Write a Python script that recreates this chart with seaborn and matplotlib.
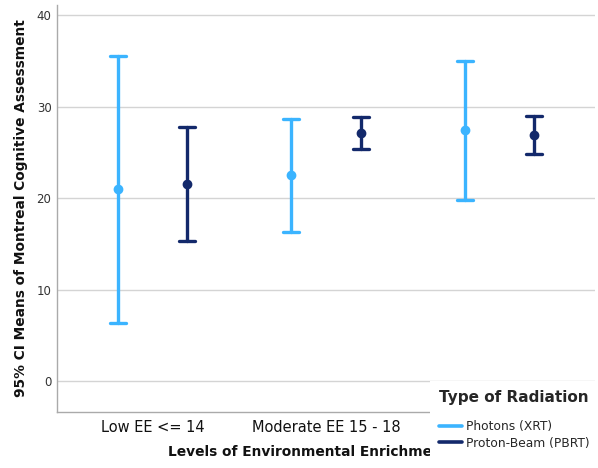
import numpy as np
import pandas as pd
import matplotlib
matplotlib.use("Agg")
import matplotlib.pyplot as plt
import seaborn as sns
from matplotlib.lines import Line2D

categories = ["Low EE <= 14", "Moderate EE 15 - 18", "High EE >= 19"]
radiation = ["Photons (XRT)", "Proton-Beam (PBRT)"]
photons_mean = [21.0, 22.5, 27.4]
photons_lower = [6.4, 16.3, 19.8]
photons_upper = [35.5, 28.6, 35.0]
protons_mean = [21.6, 27.1, 26.9]
protons_lower = [15.3, 25.4, 24.8]
protons_upper = [27.8, 28.9, 29.0]
colors = ["#3BB4FF", "#13296B"]

rows = []
for rad, lo, mu, hi in [(radiation[0], photons_lower, photons_mean, photons_upper),
                        (radiation[1], protons_lower, protons_mean, protons_upper)]:
    for c, l, m, h in zip(categories, lo, mu, hi):
        for v in (l, m, h):
            rows.append({"EE": c, "Radiation": rad, "MoCA": v})
df = pd.DataFrame(rows)

sns.set_theme(style="white")
plt.rcParams["font.family"] = ["DejaVu Sans"]

fig = plt.figure(figsize=(5.98, 4.68), dpi=100)
ax = fig.add_axes([57 / 598, 1 - 411.7 / 468, (595 - 57) / 598, (411.7 - 5) / 468])

sns.pointplot(data=df, x="EE", y="MoCA", hue="Radiation", order=categories,
              hue_order=radiation, palette=colors, estimator="median",
              errorbar=lambda v: (v.min(), v.max()), dodge=0.4,
              linestyle="none", capsize=0.09, markers="o", markersize=5,
              err_kws={"linewidth": 2.4}, legend=False, ax=ax)

ax.set_xlim(-0.55, 2.55)
ax.set_ylim(-3.3, 41.1)
ax.set_yticks([0, 10, 20, 30, 40])
ax.yaxis.grid(True, color="#D4D4D4", linewidth=1)
ax.xaxis.grid(False)
ax.set_axisbelow(True)
for s in ["top", "right"]:
    ax.spines[s].set_visible(False)
for s in ["left", "bottom"]:
    ax.spines[s].set_color("#AAAAAA")
    ax.spines[s].set_linewidth(1)

ax.tick_params(axis="y", length=0, labelsize=8.5, labelcolor="#333333", pad=4)
ax.tick_params(axis="x", length=0, labelsize=10.5, labelcolor="#111111", pad=6)

ax.set_xlabel("Levels of Environmental Enrichment (EE)", fontsize=9.9,
              fontweight="bold", color="#111111", labelpad=7)
ax.set_ylabel("95% CI Means of Montreal Cognitive Assessment", fontsize=9.9,
              fontweight="bold", color="#111111", labelpad=6)

handles = [Line2D([], [], color=c, linewidth=2.6) for c in colors]
leg = fig.legend(handles, radiation, title="Type of Radiation",
                 loc="upper left", bbox_to_anchor=(430 / 598, 1 - 381 / 468),
                 frameon=True, facecolor="white", edgecolor="none", framealpha=1,
                 fancybox=False, handlelength=1.9, handletextpad=0.35,
                 labelspacing=0.32, alignment="center", fontsize=8.8,
                 title_fontproperties={"weight": "bold", "size": 11},
                 borderpad=0.7, borderaxespad=0)
leg._legend_box.sep = 11

fig.savefig("out.png", dpi=100)
